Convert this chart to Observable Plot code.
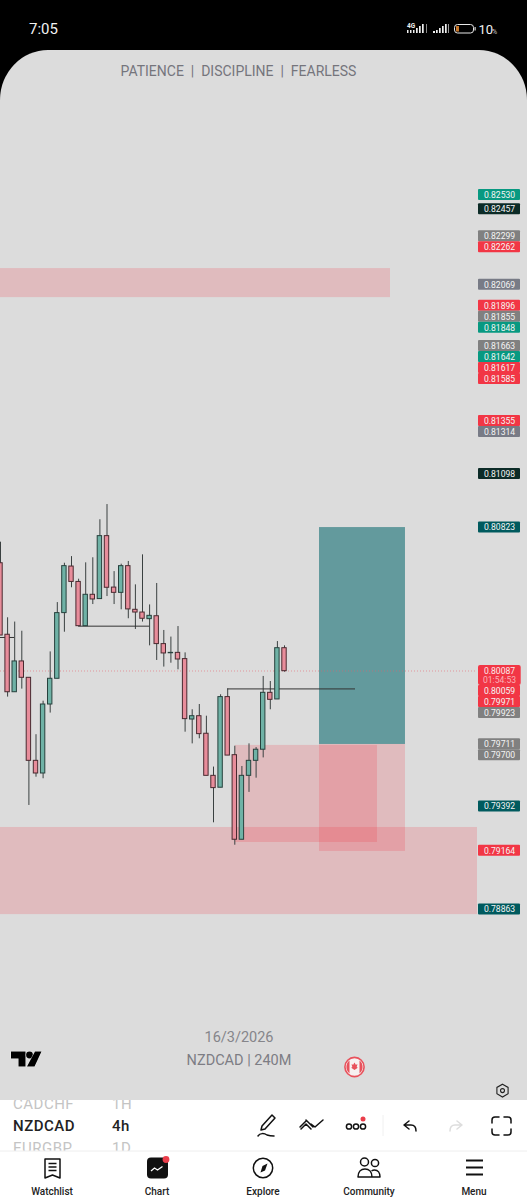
<!DOCTYPE html>
<html>
<head>
<meta charset="utf-8">
<script src="https://cdn.jsdelivr.net/npm/d3@7"></script>
<script src="https://cdn.jsdelivr.net/npm/@observablehq/plot@0.6"></script>
<style>
html,body{margin:0;padding:0;background:#000;width:527px;height:1200px;overflow:hidden;font-family:Roboto,sans-serif}
#page{position:relative;width:527px;height:1200px}
#status{position:absolute;left:0;top:0}
#chart{position:absolute;left:0;top:50px;width:527px;height:1050px}
#chart svg{display:block;border-radius:48px 48px 0 0/50px 50px 0 0}
#panel{position:absolute;left:0;top:1100px}
#over{position:absolute;left:0;top:1040px}
</style>
</head>
<body>
<div id="page">
<svg id="status" width="527" height="50" font-family="Roboto">
  <text x="29" y="33.5" fill="#f2f2f2" font-size="15">7:05</text>
  <text x="407" y="28" fill="#eee" font-size="6.5" font-weight="700">4G</text>
  <g fill="#eee"><rect x="407" y="30" width="1.5" height="3"/><rect x="410" y="30" width="1.5" height="3"/><rect x="413" y="30" width="1.5" height="3"/><rect x="416" y="28" width="1.7" height="5"/><rect x="419" y="26" width="1.7" height="7"/><rect x="422" y="24" width="1.7" height="9"/><rect x="426" y="24" width="1" height="9" fill="#888"/>
  <rect x="433" y="31" width="2" height="2"/><rect x="436" y="30" width="1.7" height="3"/><rect x="439" y="28" width="1.7" height="5"/><rect x="442" y="26" width="1.7" height="7"/><rect x="445" y="24" width="1.7" height="9"/><rect x="448" y="24" width="1" height="9" fill="#999"/></g>
  <rect x="454.5" y="24.5" width="19" height="8.5" rx="3" fill="none" stroke="#e8e8e8"/><rect x="456" y="26" width="3" height="5.5" fill="#c8762a"/><rect x="474.5" y="27" width="1.2" height="3.5" fill="#ddd"/>
  <text x="478.5" y="33.500" fill="#f2f2f2" font-size="13">10</text><text x="492" y="33.500" fill="#ccc" font-size="7">%</text>
</svg>
<div id="chart"></div>
<svg id="over" width="527" height="60" style="pointer-events:none">
  <g fill="#000" stroke="#fff" stroke-width="0.6" paint-order="stroke">
    <path d="M11 11.5h14.5v15h-7v-8h-7.5z"/><circle cx="29.5" cy="15" r="3.4"/><path d="M35 11.5h6.5l-7 15h-7.5z"/>
  </g>
  <circle cx="354.5" cy="27" r="9.6" fill="#f7f1f1" stroke="#e8525c" stroke-width="1.6"/>
  <path d="M349.500 20.600a8.200 8.200 0 0 0 0 12.800zM359.500 20.600a8.200 8.200 0 0 1 0 12.800z" fill="#e8525c"/>
  <path d="M354.500 22.500l1.300 2.300 1.700-.5-.8 2.700 1.100.7-3.300 2.300-3.300-2.300 1.100-.7-.8-2.700 1.700.5z" fill="#e8525c"/>
  <path d="M502.5 44.2l5.6 3.2v6.4l-5.6 3.2-5.6-3.2v-6.4z" fill="none" stroke="#222" stroke-width="1.1"/>
  <circle cx="502.5" cy="50.6" r="2" fill="none" stroke="#222" stroke-width="1.1"/>
</svg>
<svg id="panel" width="527" height="100" font-family="Roboto">
  <rect width="527" height="100" fill="#fff"/>
  <g font-size="15" letter-spacing="0.5">
    <text x="13" y="8.5" fill="#c4c4c4">CADCHF</text><text x="112" y="8.5" fill="#c4c4c4">1H</text>
    <text x="13" y="31" fill="#222" font-weight="500">NZDCAD</text><text x="112" y="31" fill="#222" font-weight="500">4h</text>
    <text x="13" y="53" fill="#c4c4c4">EURGBP</text><text x="112" y="53" fill="#c4c4c4">1D</text>
  </g>
  <rect y="51" width="527" height="49" fill="#fff"/>
  <line x1="0" x2="527" y1="51" y2="51" stroke="#eee"/>
  <!-- toolbar -->
  <g fill="none" stroke="#111" stroke-width="1.5" stroke-linecap="round" stroke-linejoin="round">
    <path d="M262 26l10-11 3 3-10 11-4 1z"/><path d="M258 36c2-3 6-3 9-1 3 1 5 1 7 1"/>
    <path d="M301 29l5-5 5 5M306 20l4 4 3 3M311 24l4 3 8-7M300 27l6-6"/>
    <circle cx="349" cy="26.5" r="2.6"/><circle cx="356" cy="26.5" r="2.6"/><circle cx="363" cy="26.5" r="2.6"/>
    <path d="M409 21l-5 4 5 4M404 25h7c3 0 5 2 5 6"/>
    <path d="M457 21l5 4-5 4M462 25h-7c-3 0-5 2-5 6" stroke="#ddd"/>
    <path d="M492 23v-3a3 3 0 0 1 3-3h4M504 17h4a3 3 0 0 1 3 3v3M511 29v3a3 3 0 0 1-3 3h-4M499 35h-4a3 3 0 0 1-3-3v-3"/>
  </g>
  <circle cx="363" cy="19" r="2.5" fill="#ea3d4a"/>
  <line x1="383" x2="383" y1="15" y2="36" stroke="#f0f0f0"/>
  <!-- nav -->
  <g fill="none" stroke="#111" stroke-width="1.5" stroke-linejoin="round">
    <path d="M45 59h15v19l-7.5-3-7.5 3zM48.5 63.5h8M48.5 67h8M48.5 70.5h8"/>
    <circle cx="263" cy="68" r="9.7"/>
    <circle cx="364.5" cy="62" r="4"/><circle cx="375" cy="63" r="3.6"/>
    <path d="M358 77c0-5 3-8 7-8s7 3 7 8zM372 77h8c0-4-2-7-5.500-7-1 0-2 .3-3 1"/>
  </g>
  <path d="M267.500 63.500l-2.500 7-4.500 2 2-6.500z" fill="#111"/>
  <rect x="147" y="57.500" width="21" height="21" rx="4" fill="#111"/>
  <path d="M151 71l3.500-3 3 2 5-3.500" stroke="#fff" stroke-width="1.3" fill="none"/>
  <circle cx="166" cy="59.500" r="3.400" fill="#ea3d4a"/>
  <path d="M466 60.500h17M466 67.500h17M466 74.500h17" stroke="#111" stroke-width="2"/>
  <g font-size="10" font-weight="500" fill="#222" text-anchor="middle">
    <text x="52" y="94.500">Watchlist</text><text x="157" y="94.500">Chart</text><text x="263" y="94.500">Explore</text><text x="369" y="94.500">Community</text><text x="474" y="94.500">Menu</text>
  </g>
</svg>
</div>
<script>
// ---- Candles (4h bars, oldest first)
const bars = d3.range(41);
const open  = [.80640,.80273,.79978,.80136,.80052,.79626,.79561,.79915,.80047,.80384,.80623,.80544,.80317,.80478,.80456,.80779,.80515,.80488,.80625,.80401,.80387,.80353,.80368,.80225,.80178,.80180,.80148,.79838,.79855,.79765,.79549,.79488,.79953,.79655,.79221,.79549,.79626,.79683,.79975,.79941,.80204];
const close = [.80269,.79978,.80136,.80052,.79626,.79561,.79915,.80047,.80384,.80625,.80544,.80317,.80478,.80454,.80779,.80514,.80488,.80625,.80403,.80387,.80355,.80370,.80225,.80177,.80180,.80146,.79840,.79855,.79763,.79549,.79486,.79953,.79653,.79221,.79549,.79626,.79683,.79975,.79939,.80204,.80086];
const high  = [.80748,.80360,.80338,.80291,.80052,.79760,.79932,.80185,.80438,.80640,.80674,.80558,.80642,.80668,.80863,.80941,.80597,.80635,.80649,.80529,.80683,.80426,.80536,.80295,.80261,.80315,.80180,.79888,.79915,.79855,.79594,.79965,.79995,.79701,.79597,.79713,.79694,.80059,.80033,.80238,.80216];
const low   = [.80269,.79953,.79978,.79994,.79397,.79542,.79534,.79871,.80047,.80286,.80514,.80317,.80317,.80428,.80456,.80469,.80428,.80401,.80355,.80300,.80338,.80216,.80141,.80107,.80127,.80093,.79773,.79713,.79739,.79549,.79308,.79488,.79653,.79193,.79221,.79464,.79537,.79641,.79888,.79941,.80081];

// ---- Zones, in bar index / price
const zoneFrom  = [0, 0, 33.1, 44.93];
const zoneTo    = [54.93, 67.18, 53.1, 57.04];
const zoneUpper = [.82152, .79284, .79705, .79710];
const zoneLower = [.82003, .78837, .79207, .79161];
const targetBox = {from: 44.93, to: 57.04, upper: .80823, lower: .79710};

// ---- Horizontal structure lines
const lineFrom  = [0, 11, 32];
const lineTo    = [2, 21, 50];
const linePrice = [.80259, .80317, .79995];

// ---- Price tags
const tagPrices = [.82530,.82457,.82299,.82262,.82069,.81896,.81855,.81848,.81663,.81642,.81617,.81585,.81355,.81314,.81098,.80823,.80059,.79971,.79923,.79711,.79700,.79392,.79164,.78863];
const tagKinds  = ["teal","dark","gray","red","slate","red","gray","teal","gray","teal","red","red","red","slate","dark","petrol","red","red","gray","gray","gray","petrol","red","petrol"];
const lastPrice = .80087;
const countdown = "01:54:53";

const tagColors = {teal:"#089981", dark:"#0c2b27", gray:"#808080", red:"#f23645", slate:"#787b86", petrol:"#005a5e"};
const pink = "#f23645", upFill = "#6fb2a6", downFill = "#e88d9b", wick = "#3a4040";

const W = 527, H = 1050, pxPerBar = 7.1;
const yDomain = [.83271, .77883];
const yS = Plot.scale({y: {domain: yDomain, range: [0, H]}});
const px = p => yS.apply(p), price = y => yS.invert(y);

// Stack tags away from the live price, as the platform does
const GAP = 11;
const lastY = px(lastPrice), blockTop = lastY - 5.4, blockBottom = blockTop + 20;
const tags = tagPrices.map((p, i) => ({p, color: tagColors[tagKinds[i]]}));
let prev = blockTop + GAP/2 + 5.5;
tags.filter(t => t.p > lastPrice).sort((a, b) => a.p - b.p).forEach(t => { t.y = Math.min(px(t.p), prev - GAP); prev = t.y; });
prev = blockBottom - GAP/2;
tags.filter(t => t.p < lastPrice).sort((a, b) => b.p - a.p).forEach(t => { t.y = Math.max(px(t.p), prev + GAP); prev = t.y; });

const candles = bars.map(i => ({i, o: open[i], c: close[i], h: high[i], l: low[i], up: close[i] >= open[i]}));
const zones = zoneFrom.map((f, i) => ({f, t: zoneTo[i], u: zoneUpper[i], l: zoneLower[i]}));
const lines = linePrice.map((p, i) => ({p, f: lineFrom[i], t: lineTo[i]}));
const tagL = 478 / pxPerBar, tagR = 520 / pxPerBar, tagC = 499 / pxPerBar, hw = 2.2 / pxPerBar;
const font = "Roboto, sans-serif";

const chart = Plot.plot({
  width: W, height: H, margin: 0,
  style: {background: "#dcdcdc", fontFamily: font},
  x: {domain: [0, W / pxPerBar], range: [0, W], axis: null},
  y: {domain: yDomain, range: [0, H], axis: null},
  color: {type: "identity"},
  marks: [
    Plot.rect([targetBox], {x1: "from", x2: "to", y1: "upper", y2: "lower", fill: "#006569", fillOpacity: .55}),
    Plot.rect(zones, {x1: "f", x2: "t", y1: "u", y2: "l", fill: pink, fillOpacity: .2}),
    Plot.ruleY([lastPrice], {x1: 0, x2: 477 / pxPerBar, stroke: "#e8606a", strokeWidth: .8, strokeDasharray: "1 2", strokeOpacity: .7}),
    Plot.ruleX(candles, {x: "i", y1: "h", y2: "l", stroke: wick, strokeWidth: 1}),
    Plot.ruleY(lines, {y: "p", x1: "f", x2: "t", stroke: "#333", strokeWidth: 1}),
    Plot.rect(candles, {x1: d => d.i - hw, x2: d => d.i + hw, y1: "o", y2: "c", fill: d => d.up ? upFill : downFill, stroke: d => d.up ? "#27413d" : "#4a2a30", strokeWidth: 1}),
    // tags
    Plot.rect(tags, {x1: () => tagL, x2: () => tagR, y1: d => price(d.y - 5.5), y2: d => price(d.y + 5.5), fill: "color", rx: 1}),
    Plot.rect([lastPrice], {x1: () => tagL, x2: () => tagR + .1, y1: () => price(blockTop), y2: () => price(blockBottom), fill: pink, rx: 2}),
    Plot.text(tags, {x: () => tagC, y: d => price(d.y), text: d => d.p.toFixed(5), fill: "#f4f4f4", fontSize: 8.6, style: {letterSpacing: ".3px"}}),
    Plot.text([lastPrice], {x: () => tagC, y: () => price(blockTop + 5.2), text: d => d.toFixed(5), fill: "#fbe9ea", fontSize: 8.6}),
    Plot.text([countdown], {x: () => tagC, y: () => price(blockTop + 14.2), text: d => d, fill: "#fbb2b9", fontSize: 8.6}),
    // watermark
    Plot.text(["PATIENCE  |  DISCIPLINE  |  FEARLESS"], {frameAnchor: "top-left", dx: 238, dy: 16, text: d => d, textAnchor: "middle", fill: "#75757c", fontSize: 14}),
    Plot.text(["16/3/2026"], {frameAnchor: "top-left", dx: 238.5, dy: 981, text: d => d, textAnchor: "middle", fill: "#85858a", fontSize: 14.5}),
    Plot.text(["NZDCAD | 240M"], {frameAnchor: "top-left", dx: 238.5, dy: 1004, text: d => d, textAnchor: "middle", fill: "#7d7d84", fontSize: 14.5})
  ]
});
document.getElementById("chart").appendChild(chart);
</script>
</body>
</html>
